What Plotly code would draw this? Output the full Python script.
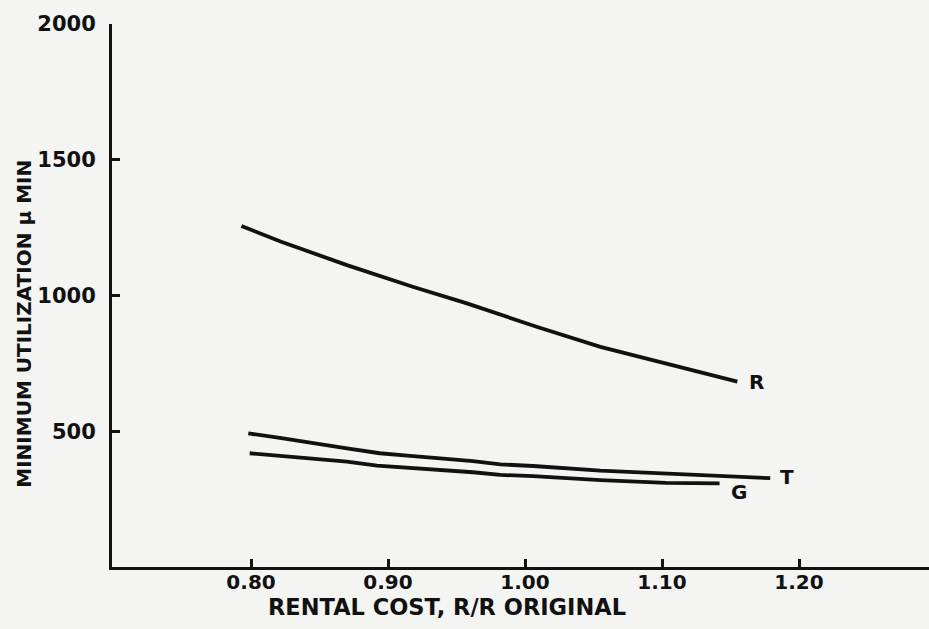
import plotly.graph_objects as go

# Curve R
r_x = [0.793, 0.822, 0.870, 0.896, 0.918, 0.957, 0.982, 1.009, 1.055, 1.103, 1.155]
r_y = [1256, 1198, 1112, 1069, 1032, 972, 928, 884, 811, 751, 683]
# Curve T
t_x = [0.798, 0.821, 0.870, 0.894, 0.914, 0.962, 0.982, 1.006, 1.055, 1.103, 1.179]
t_y = [492, 476, 437, 419, 410, 390, 378, 372, 355, 345, 327]
# Curve G
g_x = [0.799, 0.821, 0.870, 0.892, 0.914, 0.962, 0.982, 1.006, 1.055, 1.103, 1.142]
g_y = [419, 410, 388, 373, 366, 349, 339, 335, 320, 310, 308]

curve_labels = ["R", "T", "G"]
label_pos = [(1.162, 683), (1.185, 333), (1.149, 275)]

x_ticks = [0.80, 0.90, 1.00, 1.10, 1.20]
x_ticktext = ["0.80", "0.90", "1.00", "1.10", "1.20"]
y_ticks = [500, 1000, 1500, 2000]
y_ticktext = ["500", "1000", "1500", "2000"]

FONT = "DejaVu Sans"
INK = "#111111"
BG = "#f4f4f2"

fig = go.Figure()
for xs, ys in [(r_x, r_y), (t_x, t_y), (g_x, g_y)]:
    fig.add_trace(go.Scatter(x=xs, y=ys, mode="lines",
                             line=dict(color=INK, width=3.8),
                             showlegend=False, hoverinfo="skip"))

for lab, (lx, ly) in zip(curve_labels, label_pos):
    fig.add_annotation(x=lx, y=ly, text=lab, showarrow=False,
                       xanchor="left", yanchor="middle",
                       font=dict(family=FONT, size=20, color=INK, weight="bold"))

fig.add_annotation(x=-0.108, y=0.4475, xref="paper", yref="paper",
                   text="MINIMUM UTILIZATION μ MIN", textangle=-90,
                   showarrow=False, xanchor="center", yanchor="middle",
                   font=dict(family=FONT, size=20, color=INK, weight="bold"))
fig.add_annotation(x=0.41, y=-0.0737, xref="paper", yref="paper",
                   text="RENTAL COST, R/R ORIGINAL",
                   showarrow=False, xanchor="center", yanchor="middle",
                   font=dict(family=FONT, size=22.5, color=INK, weight="bold"))

fig.update_xaxes(range=[0.6985, 1.2949], tickvals=x_ticks, ticktext=x_ticktext,
                 showline=True, linecolor=INK, linewidth=3,
                 ticks="inside", ticklen=8, tickwidth=2.5, tickcolor=INK,
                 ticklabelstandoff=-5,
                 showgrid=False, zeroline=False,
                 tickfont=dict(family=FONT, size=20, color=INK, weight="bold"))
fig.update_yaxes(range=[0, 2000], tickvals=y_ticks, ticktext=y_ticktext,
                 showline=True, linecolor=INK, linewidth=3,
                 ticks="inside", ticklen=8, tickwidth=2.5, tickcolor=INK,
                 ticklabelstandoff=9,
                 showgrid=False, zeroline=False,
                 tickfont=dict(family=FONT, size=21, color=INK, weight="bold"))

fig.update_layout(width=929, height=629,
                  margin=dict(l=112, r=0, t=24, b=62),
                  paper_bgcolor=BG, plot_bgcolor=BG)

fig.write_html("out.html",
               config={"displayModeBar": False},
               post_script="document.body.style.margin='0';"
                           "document.body.style.background='#f4f4f2';")
